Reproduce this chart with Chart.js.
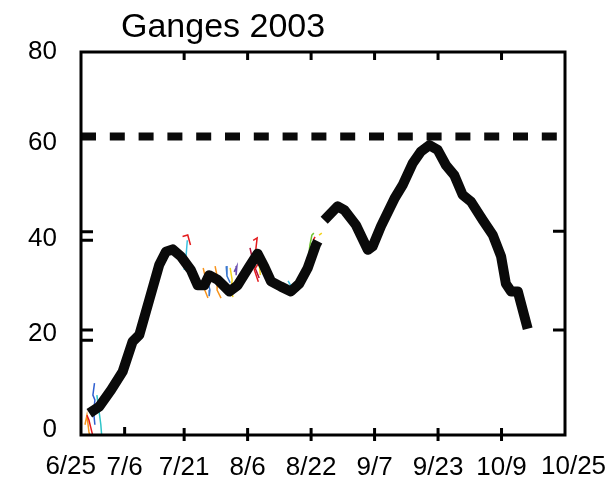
<!DOCTYPE html>
<html>
<head>
<meta charset="utf-8">
<script src="https://cdn.jsdelivr.net/npm/chart.js@4"></script>
<style>
    html, body { margin: 0; padding: 0; background: #fff; }
    #wrap { width: 615px; height: 481px; }
</style>
</head>
<body>
<div id="wrap"><canvas id="gangesChart" width="615" height="481"></canvas></div>
<script>
// days counted from 6/25
const xTickDays = [0, 11, 26, 42, 58, 74, 90, 106, 122];
const xTickLabels = ["6/25", "7/6", "7/21", "8/6", "8/22", "9/7", "9/23", "10/9", "10/25"];
const yMin = -1.15;
const yMax = 79;
const yTickValues = [0, 20, 40, 60, yMax];
const yTickLabels = ["0", "20", "40", "60", "80"];
// small inner tick marks as they sit in the original
const leftMarkValues = [41.4, 39.6, 20.8, 18.7];
const rightMarkValues = [41.5, 20.8];

// observed flow, first stretch
const flowDaysA = [2.1, 4.6, 7.6, 10.5, 13.0, 14.7, 17.2, 19.7, 21.4, 23.1, 25.2, 27.7, 29.4, 31.1, 32.3, 34.5, 37.4, 39.5, 42.4, 44.5, 46.2, 47.9, 50.4, 52.9, 55.0, 57.1, 59.2, 59.7];
const flowValsA = [3.4, 4.8, 8.3, 12.1, 18.4, 19.8, 27.1, 34.4, 37.2, 37.7, 36.2, 33.4, 30.2, 30.2, 32.3, 31.3, 28.9, 30.2, 34.1, 36.8, 34.1, 31.0, 29.9, 28.9, 30.5, 33.7, 38.6, 39.4];
// observed flow, after the gap
const flowDaysB = [61.3, 64.7, 66.4, 69.3, 72.3, 73.5, 75.6, 79.0, 81.1, 83.6, 85.7, 87.8, 89.9, 92.0, 94.1, 96.2, 98.3, 101.3, 103.8, 105.9, 107.1, 108.4, 110.1, 112.6];
const flowValsB = [43.8, 46.7, 45.9, 42.8, 37.6, 38.3, 42.5, 48.3, 51.2, 55.7, 58.2, 59.5, 58.5, 55.3, 53.2, 49.1, 47.7, 43.8, 40.7, 36.2, 30.5, 28.9, 28.9, 21.1];

const dangerLevel = 61.3;

// short forecast traces, [day, value]
const traceBlueStart = [[3.4, 9.7], [3.0, 7.2], [3.5, 6.2], [3.2, 3.5], [3.5, 1.0]];
const traceCyanStart = [[4.0, 7.2], [4.5, 4.1], [5.0, 1.0], [5.3, -2.2]];
const traceRedStart = [[1.5, 3.0], [2.0, 2.0], [2.5, 0.3], [3.0, -1.4]];
const traceOrangeStart = [[1.0, 1.0], [1.5, 3.0], [2.0, -0.5], [2.5, -2.2]];
const traceRedJul = [[25.6, 40.4], [26.9, 40.7], [27.6, 38.6]];
const traceCyanJul = [[26.8, 39.6], [26.5, 36.5], [26.0, 33.4]];
const traceOrangeA = [[30.8, 33.8], [31.5, 31.3], [31.0, 29.6], [32.0, 27.5]];
const traceBlueA = [[32.0, 30.9], [32.5, 29.2], [32.3, 27.9]];
const traceOrangeB = [[33.8, 34.2], [34.5, 31.3], [34.3, 29.2], [35.3, 27.5]];
const traceBlueB = [[36.6, 34.2], [36.8, 32.1], [37.6, 30.7]];
const traceYellowB = [[37.6, 33.8], [38.1, 31.3], [37.8, 29.2], [38.3, 27.7]];
const tracePurpleB = [[38.6, 33.0], [39.3, 34.2], [39.1, 32.3]];
const traceRedAug = [[43.4, 39.6], [44.4, 40.1], [43.9, 36.5], [44.9, 35.0], [43.7, 33.4], [44.7, 30.9]];
const traceCrimsonAug = [[42.6, 38.0], [43.4, 35.0], [44.1, 33.4], [44.9, 31.7]];
const traceYellowAug = [[44.9, 35.0], [45.2, 32.3]];
const traceCyanAug = [[52.2, 31.1], [53.2, 29.6]];
const traceGreenAug = [[57.2, 35.0], [57.7, 38.6], [58.2, 40.7], [58.7, 41.1]];
const traceRedLate = [[58.5, 39.6], [59.0, 40.3]];
const traceYellowLate = [[60.0, 40.7], [60.7, 41.1]];

const labelFont = '26px "Liberation Sans", Arial, sans-serif';

function toPoints(days, vals) {
    return days.map((d, i) => ({ x: d, y: vals[i] }));
}

function traceSet(pairs, color) {
    return {
        data: pairs.map((p) => ({ x: p[0], y: p[1] })),
        borderColor: color,
        borderWidth: 1.5,
        pointRadius: 0,
        tension: 0,
    };
}

const mainStyle = {
    borderColor: "#0a0a0a",
    borderWidth: 10,
    pointRadius: 0,
    tension: 0,
    borderJoinStyle: "round",
    borderCapStyle: "butt",
};

// frame, inner ticks, end labels and title
const framePlugin = {
    id: "framePlugin",
    afterDraw(chart) {
        const { ctx, chartArea } = chart;
        const xs = chart.scales.x;
        const ys = chart.scales.y;
        ctx.save();
        ctx.strokeStyle = "#000";
        ctx.lineWidth = 3;
        ctx.strokeRect(chartArea.left, chartArea.top, chartArea.right - chartArea.left, chartArea.bottom - chartArea.top);

        ctx.beginPath();
        leftMarkValues.forEach((v) => {
            const py = ys.getPixelForValue(v);
            ctx.moveTo(chartArea.left, py);
            ctx.lineTo(chartArea.left + 12, py);
        });
        rightMarkValues.forEach((v) => {
            const py = ys.getPixelForValue(v);
            ctx.moveTo(chartArea.right, py);
            ctx.lineTo(chartArea.right - 12, py);
        });
        xTickDays.slice(1, -1).forEach((d, i) => {
            const px = xs.getPixelForValue(d);
            if (i > 0) {
                ctx.moveTo(px, chartArea.top);
                ctx.lineTo(px, chartArea.top + 8);
                ctx.moveTo(px, chartArea.bottom + 6);
                ctx.lineTo(px, chartArea.bottom - 7);
            } else {
                ctx.moveTo(px, chartArea.bottom);
                ctx.lineTo(px, chartArea.bottom - 8);
            }
        });
        ctx.stroke();

        ctx.fillStyle = "#000";
        ctx.font = labelFont;
        ctx.textBaseline = "middle";
        const labelY = chartArea.bottom + 32;
        ctx.textAlign = "right";
        ctx.fillText(xTickLabels[0], xs.getPixelForValue(xTickDays[0]) + 15, labelY);
        ctx.textAlign = "left";
        ctx.fillText(xTickLabels[xTickLabels.length - 1], xs.getPixelForValue(xTickDays[xTickDays.length - 1]) - 24, labelY);

        ctx.font = '34px "Liberation Sans", Arial, sans-serif';
        ctx.textAlign = "left";
        ctx.textBaseline = "alphabetic";
        ctx.fillText("Ganges 2003", 121, 37);
        ctx.restore();
    },
};

const ctx = document.getElementById("gangesChart").getContext("2d");

new Chart(ctx, {
    type: "line",
    data: {
        datasets: [
            { ...mainStyle, data: toPoints(flowDaysA, flowValsA) },
            { ...mainStyle, data: toPoints(flowDaysB, flowValsB) },
            {
                data: [{ x: xTickDays[0], y: dangerLevel }, { x: xTickDays[xTickDays.length - 1], y: dangerLevel }],
                borderColor: "#0a0a0a",
                borderWidth: 8,
                borderDash: [15, 13.8],
                pointRadius: 0,
            },
            traceSet(traceBlueStart, "#2f5fd0"),
            traceSet(traceCyanStart, "#2ec4c8"),
            traceSet(traceRedStart, "#e41a1c"),
            traceSet(traceOrangeStart, "#f7941d"),
            traceSet(traceRedJul, "#e41a1c"),
            traceSet(traceCyanJul, "#3cc0e0"),
            traceSet(traceOrangeA, "#f7941d"),
            traceSet(traceBlueA, "#3a78d0"),
            traceSet(traceOrangeB, "#f7941d"),
            traceSet(traceBlueB, "#3a78d0"),
            traceSet(traceYellowB, "#f2d21a"),
            traceSet(tracePurpleB, "#6a4fb0"),
            traceSet(traceRedAug, "#e41a1c"),
            traceSet(traceCrimsonAug, "#b0103a"),
            traceSet(traceYellowAug, "#f2d21a"),
            traceSet(traceCyanAug, "#3cc0e0"),
            traceSet(traceGreenAug, "#6cc12e"),
            traceSet(traceRedLate, "#e41a1c"),
            traceSet(traceYellowLate, "#f2d21a"),
        ],
    },
    options: {
        responsive: false,
        animation: false,
        events: [],
        layout: { padding: { top: 52, right: 50, left: 0, bottom: 0 } },
        plugins: {
            legend: { display: false },
            tooltip: { enabled: false },
            title: { display: false },
        },
        scales: {
            x: {
                type: "linear",
                min: xTickDays[0],
                max: xTickDays[xTickDays.length - 1],
                afterBuildTicks: (scale) => {
                    scale.ticks = xTickDays.map((v) => ({ value: v }));
                },
                afterFit: (scale) => {
                    scale.height = 46;
                },
                grid: { display: false, drawTicks: false },
                border: { display: false },
                ticks: {
                    autoSkip: false,
                    maxRotation: 0,
                    padding: 17,
                    color: "#000",
                    font: { family: '"Liberation Sans", Arial, sans-serif', size: 26 },
                    // end labels are drawn by framePlugin, set off the way the original has them
                    callback: (value, index) =>
                        index === 0 || index === xTickLabels.length - 1 ? "" : xTickLabels[index],
                },
            },
            y: {
                type: "linear",
                min: yMin,
                max: yMax,
                afterBuildTicks: (scale) => {
                    scale.ticks = yTickValues.map((v) => ({ value: v }));
                },
                afterFit: (scale) => {
                    scale.width = 81;
                },
                grid: { display: false, drawTicks: false },
                border: { display: false },
                ticks: {
                    autoSkip: false,
                    padding: 24,
                    color: "#000",
                    font: { family: '"Liberation Sans", Arial, sans-serif', size: 26 },
                    callback: (value, index) => yTickLabels[index],
                },
            },
        },
    },
    plugins: [framePlugin],
});
</script>
</body>
</html>
